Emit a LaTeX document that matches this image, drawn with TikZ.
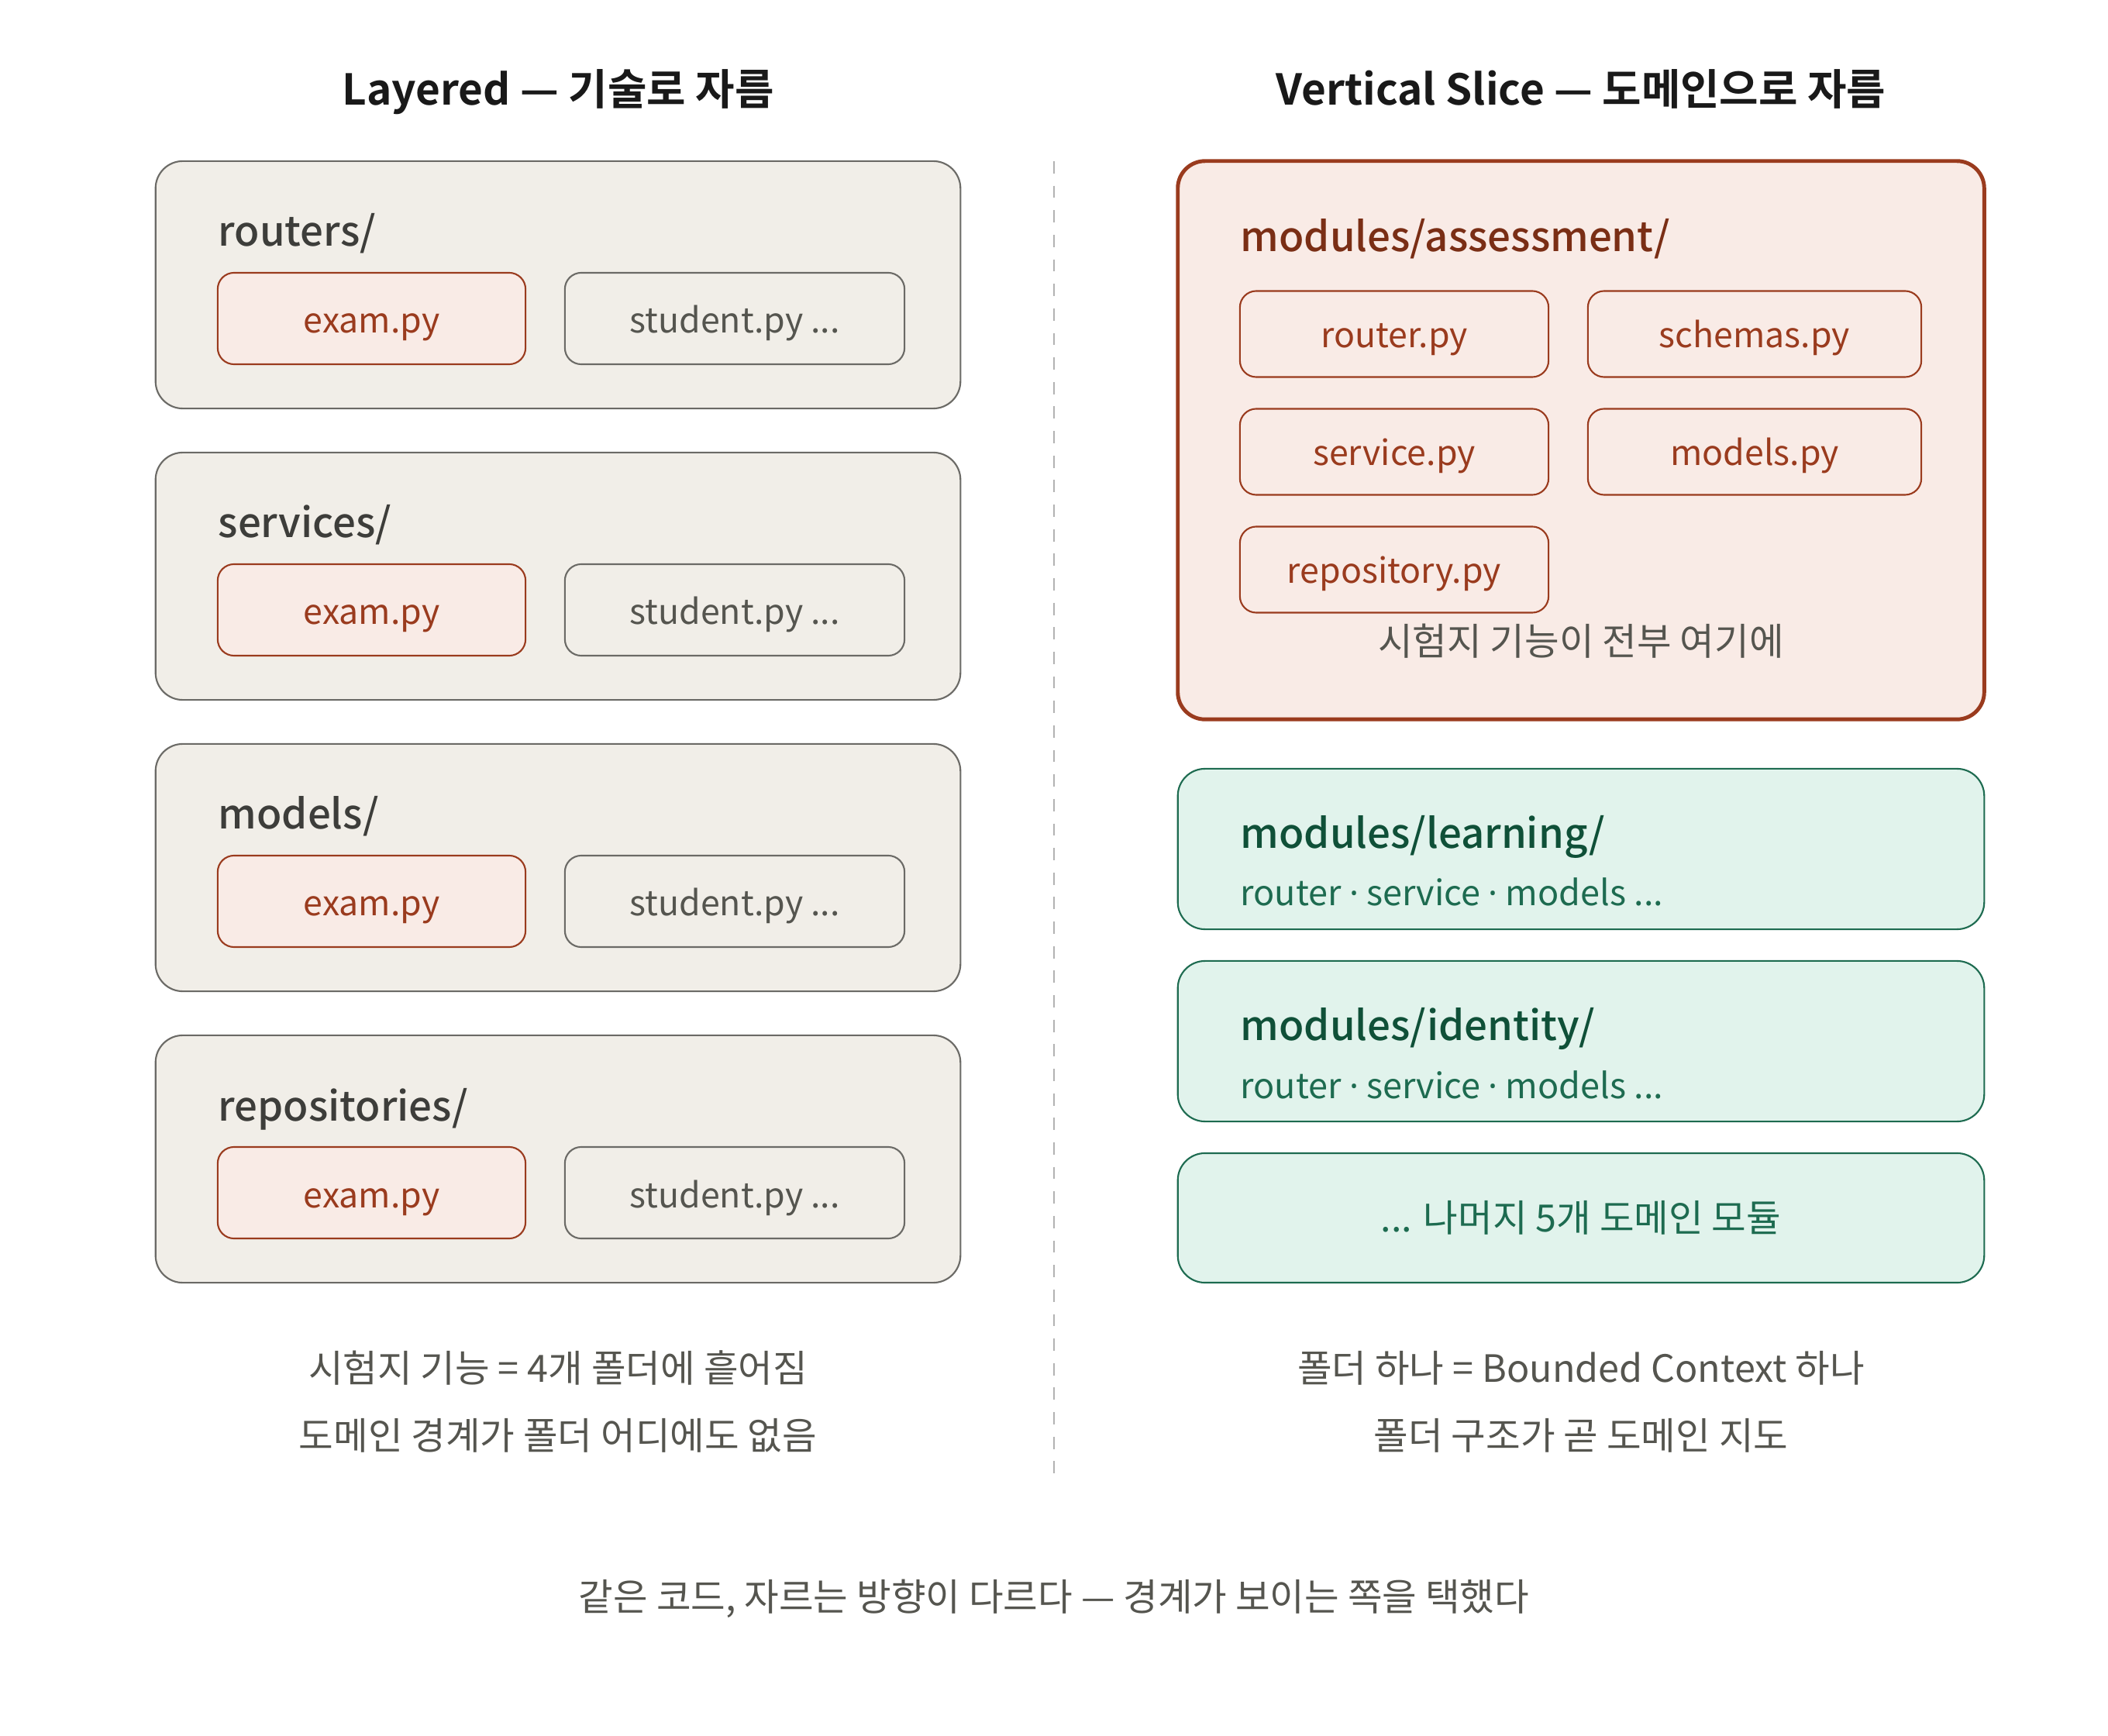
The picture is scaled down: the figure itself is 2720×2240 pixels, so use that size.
\documentclass[tikz,border=0pt]{standalone}
\usepackage{fontspec}
\setmainfont{Noto Sans CJK KR}[BoldFont={Noto Sans CJK KR Bold}]
\newfontfamily\medfont{Noto Sans CJK KR Medium}
\newfontfamily\latinfont{Noto Sans}
\definecolor{beige}{HTML}{F1EEE8}
\definecolor{graystroke}{HTML}{6B6A66}
\definecolor{rustfill}{HTML}{F9EBE6}
\definecolor{rust}{HTML}{9A3B1E}
\definecolor{rustdark}{HTML}{7A2E15}
\definecolor{greenfill}{HTML}{E1F3EC}
\definecolor{greenstroke}{HTML}{1D6B50}
\definecolor{greendark}{HTML}{0F5038}
\definecolor{labelgray}{HTML}{3D3D3A}
\definecolor{textgray}{HTML}{55554F}
\newcommand{\mdot}{{\latinfont ·}}
\begin{document}
\begin{tikzpicture}[x=0.01cm,y=-0.01cm,
  outerbox/.style={draw=graystroke, fill=beige, line width=0.6pt, rounded corners=10pt, minimum width=10.38cm, minimum height=3.19cm, inner sep=0pt},
  exambox/.style={draw=rust, fill=rustfill, line width=0.6pt, rounded corners=6pt, minimum width=3.97cm, minimum height=1.18cm, inner sep=0pt},
  studbox/.style={draw=graystroke, fill=beige, line width=0.6pt, rounded corners=6pt, minimum width=4.38cm, minimum height=1.18cm, inner sep=0pt},
  filetxt/.style={anchor=base, inner sep=0pt, font=\fontsize{12.7}{15}\selectfont},
  folderlbl/.style={anchor=base west, inner sep=0pt, text=labelgray, font=\medfont\fontsize{15.0}{18}\selectfont},
  titlelbl/.style={anchor=base, inner sep=0pt, text=black!90, font=\bfseries\fontsize{15.6}{19}\selectfont},
  assessbox/.style={draw=rust, fill=rustfill, line width=1.4pt, rounded corners=10pt, minimum width=10.4cm, minimum height=7.2cm, inner sep=0pt},
  filebox/.style={draw=rust, fill=rustfill, line width=0.6pt, rounded corners=6pt, minimum height=1.11cm, inner sep=0pt},
  greenbox/.style={draw=greenstroke, fill=greenfill, line width=0.6pt, rounded corners=10pt, minimum width=10.4cm, inner sep=0pt},
  greenlbl/.style={anchor=base west, inner sep=0pt, text=greendark, font=\medfont\fontsize{15.0}{18}\selectfont},
  greensub/.style={anchor=base west, inner sep=0pt, text=greenstroke, font=\fontsize{12.8}{15}\selectfont},
  caption/.style={anchor=base, inner sep=0pt, text=textgray, font=\fontsize{13.8}{16}\selectfont},
]
\useasboundingbox[fill=white] (0,0) rectangle (2720,2240);

% titles
\node[titlelbl] (tleft) at (720,136) {Layered — 기술로 자름};
\node[titlelbl] (tright) at (2040,136) {Vertical Slice — 도메인으로 자름};

% divider
\coordinate (dtop) at (1360,208);
\coordinate (dbot) at (1360,1917);
\draw[color=black!30, line width=0.6pt, dash pattern=on 4.5pt off 4.5pt] (dtop) -- (dbot);

% left layered boxes
\foreach \name/\lbl/\top in {routers/routers/208, services/services/584, models/models/960, repos/repositories/1336}{
  \node[outerbox] (\name) at (720,\top+159.5) {};
  \node[folderlbl] (\name-lbl) at (281,\top+110) {\lbl/};
  \node[exambox] (\name-exam) at (479.5,\top+203) {};
  \node[filetxt, text=rust] (\name-examtxt) at (479.5,\top+222) {exam.py};
  \node[studbox] (\name-stud) at (948,\top+203) {};
  \node[filetxt, text=textgray] (\name-studtxt) at (948,\top+222) {student.py ...};
}

% assessment module
\node[assessbox] (assess) at (2040,568) {};
\node[anchor=base west, inner sep=0pt, text=rustdark, font=\medfont\fontsize{15.0}{18}\selectfont] (assess-lbl) at (1600,325) {modules/assessment/};
\node[filebox, minimum width=3.98cm] (router) at (1799,431) {};
\node[filetxt, text=rust] (router-txt) at (1799,449) {router.py};
\node[filebox, minimum width=4.30cm] (schemas) at (2264,431) {};
\node[filetxt, text=rust] (schemas-txt) at (2264,449) {schemas.py};
\node[filebox, minimum width=3.98cm] (service) at (1799,583) {};
\node[filetxt, text=rust] (service-txt) at (1799,601) {service.py};
\node[filebox, minimum width=4.30cm] (modelspy) at (2264,583) {};
\node[filetxt, text=rust] (modelspy-txt) at (2264,601) {models.py};
\node[filebox, minimum width=3.98cm] (repo) at (1799,735) {};
\node[filetxt, text=rust] (repo-txt) at (1799,753) {repository.py};
\node[caption] (assess-cap) at (2040,846) {시험지 기능이 전부 여기에};

% learning module
\node[greenbox, minimum height=2.07cm] (learning) at (2040,1095.5) {};
\node[greenlbl] (learning-lbl) at (1600,1094) {modules/learning/};
\node[greensub] (learning-sub) at (1600,1169) {router \mdot{} service \mdot{} models ...};

% identity module
\node[greenbox, minimum height=2.07cm] (identity) at (2040,1343.5) {};
\node[greenlbl] (identity-lbl) at (1600,1342) {modules/identity/};
\node[greensub] (identity-sub) at (1600,1417) {router \mdot{} service \mdot{} models ...};

% rest
\node[greenbox, minimum height=1.67cm] (rest) at (2040,1571.5) {};
\node[caption, text=greenstroke] (rest-lbl) at (2040,1589) {... 나머지 5개 도메인 모듈};

% captions
\node[caption] (capL1) at (720,1783) {시험지 기능 = 4개 폴더에 흩어짐};
\node[caption] (capL2) at (720,1870) {도메인 경계가 폴더 어디에도 없음};
\node[caption] (capR1) at (2040,1783) {폴더 하나 = Bounded Context 하나};
\node[caption] (capR2) at (2040,1870) {폴더 구조가 곧 도메인 지도};
\node[caption] (bottom) at (1360,2078) {같은 코드, 자르는 방향이 다르다 — 경계가 보이는 쪽을 택했다};
\end{tikzpicture}
\end{document}
